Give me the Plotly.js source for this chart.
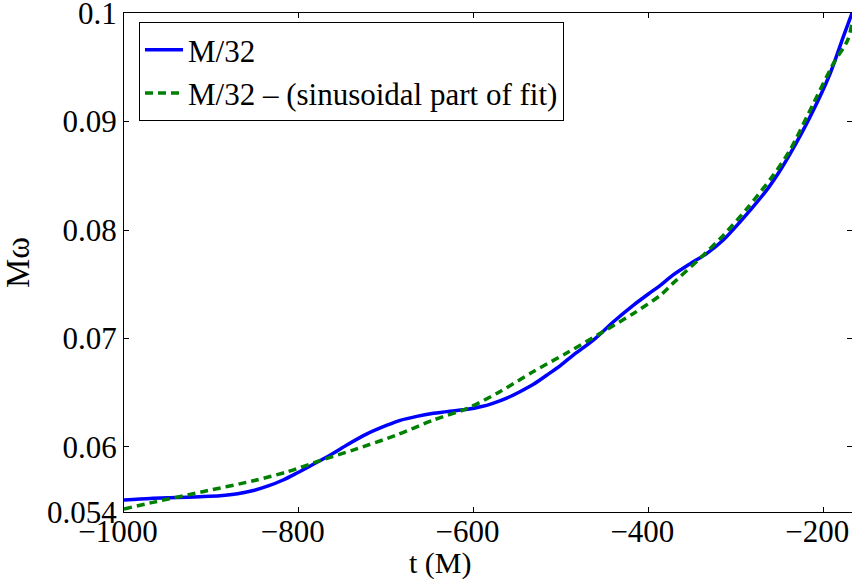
<!DOCTYPE html>
<html>
<head>
<meta charset="utf-8">
<script src="https://cdn.plot.ly/plotly-3.0.1.min.js"></script>
<style>html,body{margin:0;padding:0;background:#fff;}#chart{width:852px;height:579px;}</style>
</head>
<body>
<div id="chart"></div>
<script>
// Series: M/32 (blue solid)
const tBlue = [-1000, -970, -940, -913, -890, -870, -852, -835, -818, -802, -788, -776, -760, -745, -722, -699, -684, -665, -646, -627, -607, -592, -578, -562, -547, -531, -516, -500, -486, -463, -440, -417, -400, -386, -372, -352, -333, -314, -295, -280, -264, -250, -238, -215, -192, -177, -167];
const wBlue = [0.05511, 0.05525, 0.05533, 0.05541, 0.05550, 0.05568, 0.05598, 0.05640, 0.05695, 0.05760, 0.05820, 0.05873, 0.05945, 0.06018, 0.06120, 0.06200, 0.06245, 0.06282, 0.06310, 0.06330, 0.06347, 0.06370, 0.06402, 0.06450, 0.06509, 0.06580, 0.06663, 0.06755, 0.06847, 0.06985, 0.07154, 0.07308, 0.07410, 0.07492, 0.07584, 0.07690, 0.07784, 0.07910, 0.08076, 0.08215, 0.08375, 0.08540, 0.08700, 0.09043, 0.09443, 0.09781, 0.10000];
// Series: M/32 - (sinusoidal part of fit) (green dashed)
const tGreen = [-1000, -967, -910, -852, -813, -776, -738, -688, -646, -607, -570, -532, -493, -455, -417, -386, -372, -341, -314, -287, -257, -238, -211, -188, -172, -167];
const wGreen = [0.05428, 0.05489, 0.05587, 0.05688, 0.05771, 0.05873, 0.05971, 0.06110, 0.06248, 0.06356, 0.06509, 0.06693, 0.06868, 0.07047, 0.07231, 0.07400, 0.07508, 0.07738, 0.07953, 0.08199, 0.08506, 0.08736, 0.09170, 0.09538, 0.09750, 0.09907];
// Ticks
const xTickVals = [-1000, -800, -600, -400, -200];
const xTickText = ["\u22121000", "\u2212800", "\u2212600", "\u2212400", "\u2212200"];
const yTickVals = [0.054, 0.06, 0.07, 0.08, 0.09, 0.1];
const yTickText = ["0.054", "0.06", "0.07", "0.08", "0.09", "0.1"];
const seriesNames = ["M/32", "M/32 \u2013 (sinusoidal part of fit)"];

const fam = "Liberation Serif";

const traces = [
  {x: tBlue, y: wBlue, name: seriesNames[0], type: "scatter", mode: "lines",
   line: {color: "#0000ff", width: 3.5, shape: "spline", smoothing: 0.8}},
  {x: tGreen, y: wGreen, name: seriesNames[1], type: "scatter", mode: "lines",
   line: {color: "#008000", width: 3.5, dash: "8px,5px", shape: "spline", smoothing: 0.8}}
];

const layout = {
  width: 852, height: 579,
  margin: {l: 124, r: 0, t: 13, b: 67, pad: 0},
  paper_bgcolor: "#fff", plot_bgcolor: "#fff",
  font: {family: fam, size: 30, color: "#000"},
  showlegend: true,
  legend: {x: 0.0206, y: 0.982, xanchor: "left", yanchor: "top",
           bgcolor: "#fff", bordercolor: "#000", borderwidth: 1,
           font: {family: fam, size: 31, color: "#000"},
           itemwidth: 38},
  xaxis: {range: [-1000, -167], tickvals: xTickVals, ticktext: xTickText,
          ticks: "inside", ticklen: 5, tickcolor: "#000", tickwidth: 1,
          showline: true, linecolor: "#000", linewidth: 1, mirror: "ticks",
          showgrid: false, zeroline: false, ticklabelshift: -6, ticklabelstandoff: -8,
          ticklabeloverflow: "allow",
          tickfont: {family: fam, size: 31, color: "#000"}},
  yaxis: {range: [0.054, 0.10001], tickvals: yTickVals, ticktext: yTickText,
          ticks: "inside", ticklen: 5, tickcolor: "#000", tickwidth: 1,
          showline: true, linecolor: "#000", linewidth: 1, mirror: "ticks",
          showgrid: false, zeroline: false, ticklabeloverflow: "allow",
          title: {text: "M\u03c9", standoff: 8, font: {family: fam, size: 33, color: "#000"}},
          tickfont: {family: fam, size: 31, color: "#000"}},
  annotations: [{text: "t (M)", xref: "paper", yref: "paper", x: 0.4354, y: 0,
                 xanchor: "center", yanchor: "top", yshift: -32, showarrow: false,
                 font: {family: fam, size: 30, color: "#000"}}]
};

Plotly.newPlot("chart", traces, layout, {displayModeBar: false, staticPlot: true});
</script>
</body>
</html>
